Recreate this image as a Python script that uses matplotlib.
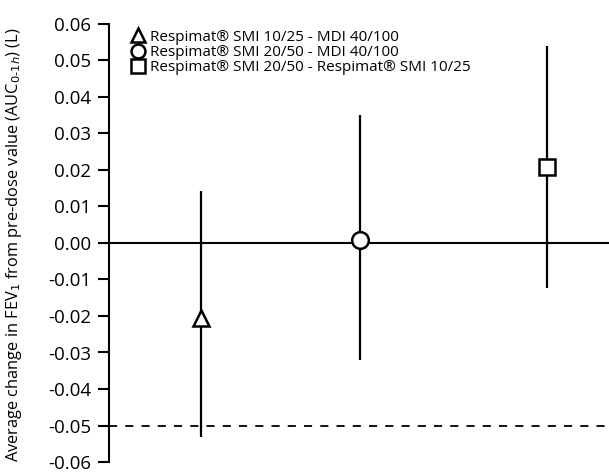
import matplotlib
matplotlib.use("Agg")
import matplotlib.pyplot as plt

# Data
labels = ["Respimat® SMI 10/25 - MDI 40/100",
          "Respimat® SMI 20/50 - MDI 40/100",
          "Respimat® SMI 20/50 - Respimat® SMI 10/25"]
markers = ["^", "o", "s"]
xpos = [92, 251, 438]
means = [-0.0205, 0.0007, 0.0209]
lower = [-0.0532, -0.0321, -0.0124]
upper = [0.0143, 0.0351, 0.0540]
yticks = [-0.06, -0.05, -0.04, -0.03, -0.02, -0.01, 0.0, 0.01, 0.02, 0.03, 0.04, 0.05, 0.06]
ytick_labels = ["-0.06", "-0.05", "-0.04", "-0.03", "-0.02", "-0.01", "0.00",
                "0.01", "0.02", "0.03", "0.04", "0.05", "0.06"]
ylabel = "Average change in FEV$_1$ from pre-dose value (AUC$_{0\\text{-}1h}$) (L)"

plt.rcParams['font.family'] = ['Open Sans', 'DejaVu Sans']

fig = plt.figure(figsize=(6.09, 4.73), dpi=100)
ax = fig.add_axes([109/609, 1 - 462/473, 1 - 109/609, (462-24)/473])

ax.set_xlim(0, 500)
ax.set_ylim(-0.06, 0.06)

ax.axhline(0, color="black", lw=1.5, zorder=1)
ax.axhline(-0.05, color="black", lw=1.3, ls=(0, (4.5, 4.5)), zorder=1)

msizes = [11, 12, 11]
for x, m, lo, hi, mk, ms in zip(xpos, means, lower, upper, markers, msizes):
    ax.plot([x, x], [lo, hi], color="black", lw=1.6, zorder=2, solid_capstyle="butt")
    ax.plot([x], [m], marker=mk, ms=ms, mfc="white", mec="black", mew=1.8,
            ls="none", zorder=3)

for s in ["top", "right", "bottom"]:
    ax.spines[s].set_visible(False)
ax.spines["left"].set_linewidth(1.5)
ax.set_xticks([])
ax.set_yticks(yticks)
ax.set_yticklabels(ytick_labels, fontsize=13.5)
ax.tick_params(axis="y", direction="out", length=8, width=1.5, pad=5)

fig.text(14/609, 1 - 245/473, ylabel, rotation=90, ha="center", va="center",
         fontsize=11.8)

leg_handles = []
for mk, ms in zip(markers, [9.5, 10, 9.5]):
    h, = ax.plot([], [], marker=mk, ms=ms, mfc="white", mec="black", mew=1.8, ls="none")
    leg_handles.append(h)
ax.legend(leg_handles, labels, loc="upper left", bbox_to_anchor=(0.02, 1.008),
          frameon=False, fontsize=11, handletextpad=0.15, labelspacing=0.02,
          borderaxespad=0.2, handlelength=1.3)

fig.savefig("out.png", dpi=100)
